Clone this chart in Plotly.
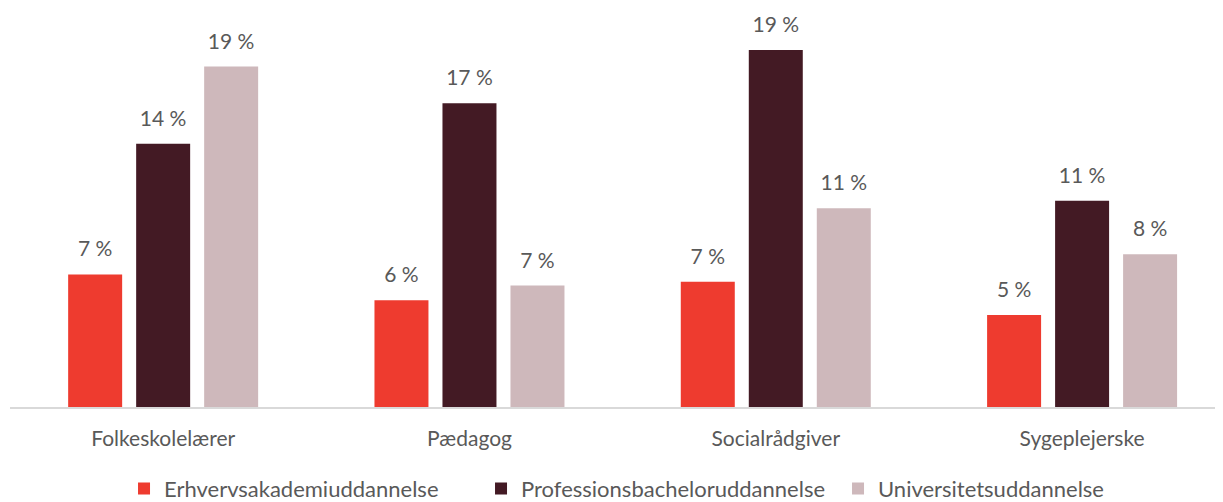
import plotly.graph_objects as go

# ------------------- Data -------------------
categories = ["Folkeskolelærer", "Pædagog", "Socialrådgiver", "Sygeplejerske"]
erhverv = [7.2, 5.8, 6.8, 5.0]
profession = [14.3, 16.5, 19.4, 11.2]
universitet = [18.5, 6.6, 10.8, 8.3]

series = [
    ("Erhvervsakademiuddannelse", erhverv, "#EE3B2F"),
    ("Professionsbacheloruddannelse", profession, "#431A24"),
    ("Universitetsuddannelse", universitet, "#CEB8BB"),
]

FONT = "Lato, 'Open Sans', sans-serif"
GREY = "#595959"

fig = go.Figure()
for name, vals, color in series:
    fig.add_trace(go.Bar(
        x=categories,
        y=vals,
        name=name,
        marker=dict(color=color, line=dict(width=0)),
        # small base font -> short spacer line lifts the label a bit off the bar
        text=[f"<span style='font-size:21px'>{round(v + 0.001)} %</span><br> " for v in vals],
        textposition="outside",
        constraintext="none",
        textfont=dict(family=FONT, size=10, color=GREY),
        cliponaxis=False,
    ))

# page body has an 8px margin, so the plot is shifted up/left to compensate
fig.update_layout(
    width=1223,
    height=502,
    margin=dict(l=2, r=8, t=0, b=101),
    plot_bgcolor="white",
    paper_bgcolor="white",
    barmode="group",
    bargap=0.334,
    bargroupgap=0.206,
    showlegend=True,
    legend=dict(
        orientation="h",
        x=0.094, xanchor="left",
        y=-0.205, yanchor="middle",
        font=dict(family=FONT, size=22, color=GREY),
        entrywidth=312,
        tracegroupgap=0,
    ),
    font=dict(family=FONT, color=GREY),
)
fig.update_xaxes(
    range=[-0.5, 3.46],
    showline=True, linecolor="#D9D9D9", linewidth=2,
    showgrid=False,
    tickfont=dict(family=FONT, size=21, color=GREY),
    ticks="outside", ticklen=12, tickcolor="rgba(0,0,0,0)",
)
fig.update_yaxes(
    range=[0, 21.68],
    visible=False,
    showgrid=False,
)

fig.write_html("out.html")
